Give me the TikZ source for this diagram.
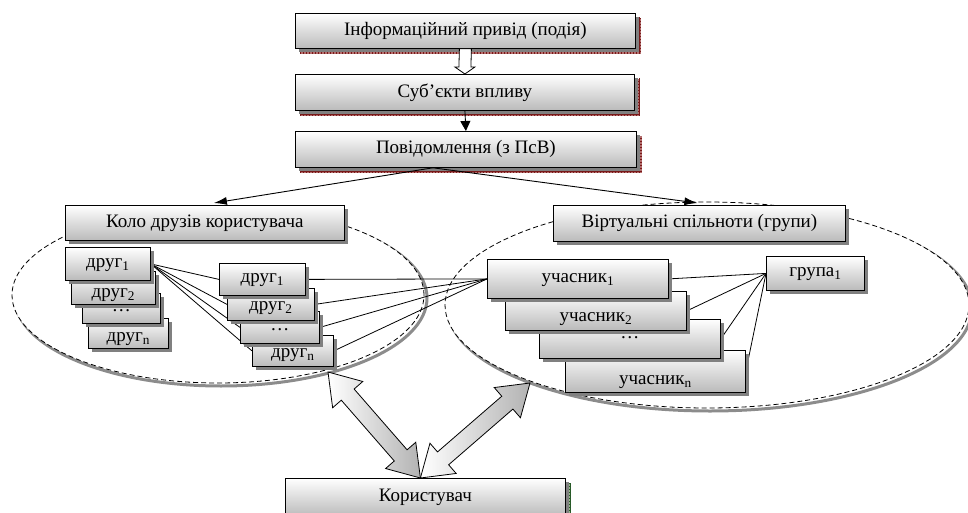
\documentclass[tikz,border=0pt]{standalone}
\usepackage{fontspec}
\setmainfont{Liberation Serif}
\usetikzlibrary{calc,shadows,patterns,backgrounds,arrows.meta}
\definecolor{hatchred}{RGB}{180,110,110}
\definecolor{hatchredline}{RGB}{120,25,25}
\definecolor{hatchgreen}{RGB}{150,180,140}
\definecolor{hatchgreenline}{RGB}{40,90,40}
\tikzset{
  boxbase/.style={draw, line width=0.8pt, top color=white, bottom color=black!27,
    font=\fontsize{19}{22}\selectfont, inner sep=0pt, anchor=north west},
  box/.style={boxbase, drop shadow={shadow xshift=3.5pt, shadow yshift=-3.5pt, fill=black!50, opacity=1}},
  tdown/.style={text height={(9+2*#1)*1pt}, text depth=4pt},
  redsh/.style={fill=hatchred, postaction={pattern=grid, pattern color=hatchredline}},
  greensh/.style={fill=hatchgreen, postaction={pattern=grid, pattern color=hatchgreenline}},
  ell/.style={draw, fill=white, line width=0.8pt, dash pattern=on 5pt off 3pt},
  ellsh/.style={draw=black!45, line width=3pt},
  conn/.style={line width=0.8pt},
  arr/.style={line width=0.9pt, -{Latex[length=13pt,width=8pt]}},
  bigarrow/.style={draw, line width=0.8pt, left color=white, right color=black!30},
}
\newcommand\bx[7][box]{\node[box, #1, minimum width={(#5-#3)*1pt}, minimum height={(#6-#4)*1pt}] (#2) at (#3,#4) {#7};}
\newcommand\dblarrow[2]{%
  \path[bigarrow] (#1)
    -- ($($(#1)!30pt!(#2)$)!20pt!90:(#2)$)
    -- ($($(#1)!30pt!(#2)$)!8.5pt!90:(#2)$)
    -- ($($(#2)!30pt!(#1)$)!8.5pt!-90:(#1)$)
    -- ($($(#2)!30pt!(#1)$)!20pt!-90:(#1)$)
    -- (#2)
    -- ($($(#2)!30pt!(#1)$)!20pt!90:(#1)$)
    -- ($($(#2)!30pt!(#1)$)!8.5pt!90:(#1)$)
    -- ($($(#1)!30pt!(#2)$)!8.5pt!-90:(#2)$)
    -- ($($(#1)!30pt!(#2)$)!20pt!-90:(#2)$)
    -- cycle;}
\begin{document}
\begin{tikzpicture}[x=1pt,y=-1pt]
\useasboundingbox (0,0) rectangle (968,513);
% ellipses (background)
\begin{pgfonlayer}{background}
  \draw[ellsh] (221,298) ellipse [x radius=206pt, y radius=88pt];
  \draw[ell] (218,295) ellipse [x radius=206pt, y radius=88pt];
  \draw[ellsh] (710,308) ellipse [x radius=262pt, y radius=103pt];
  \draw[ell] (707,305) ellipse [x radius=262pt, y radius=103pt];
\end{pgfonlayer}
% top chain
\bx[boxbase]{b1}{295}{13}{635}{48}{Інформаційний привід (подія)}
\bx[boxbase]{b2}{295}{74}{634}{110}{Суб’єкти впливу}
\bx[boxbase]{b3}{295}{131}{636}{167}{Повідомлення (з ПсВ)}
% group headers
\bx{kolo}{65}{205}{344}{240}{Коло друзів користувача}
\bx{virt}{553}{205}{845}{241}{Віртуальні спільноти (групи)}
% left column of friends
\bx[tdown=6]{fn}{88}{318}{168}{348}{друг\textsubscript{n}}
\bx[tdown=0.5]{f3}{82}{293}{160}{323}{…}
\bx[tdown=7]{f2}{71}{271}{155}{304}{друг\textsubscript{2}}
\bx[tdown=1]{f1}{65}{247}{150}{280}{друг\textsubscript{1}}
% second column of friends
\bx[tdown=4.5]{gn}{252}{335}{333}{366}{друг\textsubscript{n}}
\bx[tdown=0.5]{g3}{240}{311}{319}{343}{…}
\bx[tdown=4]{g2}{227}{288}{314}{320}{друг\textsubscript{2}}
\bx[tdown=1]{g1}{219}{263}{305}{295}{друг\textsubscript{1}}
% members
\bx[tdown=11]{un}{565}{350}{745}{392}{учасник\textsubscript{n}}
\bx[tdown=-3]{u3}{539}{319}{720}{358}{…}
\bx[tdown=8]{u2}{505}{291}{686}{330}{учасник\textsubscript{2}}
\bx[tdown=1.5]{u1}{487}{259}{668}{298}{учасник\textsubscript{1}}
\bx[tdown=1]{gr}{766}{256}{864}{290}{група\textsubscript{1}}
% user
\bx[boxbase]{user}{285}{478}{565}{516}{Користувач}
% patterned shadows and connectors behind the boxes
\begin{pgfonlayer}{background}
  \foreach \n in {b1,b2,b3}{
    \path[redsh] ([shift={(5pt,-5pt)}]\n.south west) rectangle ([shift={(5pt,-5pt)}]\n.north east);
  }
  \path[greensh] ([shift={(5pt,-5pt)}]user.south west) rectangle ([shift={(5pt,-5pt)}]user.north east);
  \foreach \g in {g1,g2,g3,gn}{
    \draw[conn] (f1.east) -- (\g.west);
    \draw[conn] (\g.east) -- (u1.west);
  }
  \foreach \u in {u1,u2,u3,un}{
    \draw[conn] (gr.west) -- (\u.east);
  }
\end{pgfonlayer}
% small hollow arrow
\draw[line width=0.8pt, fill=white]
  ([xshift=-6pt]b1.south) -- ([xshift=-6pt,yshift=7pt]b2.north) -- ([xshift=-10pt,yshift=7pt]b2.north)
  -- (b2.north) -- ([xshift=10pt,yshift=7pt]b2.north) -- ([xshift=6pt,yshift=7pt]b2.north)
  -- ([xshift=6pt]b1.south) -- cycle;
% solid arrow
\draw[line width=0.9pt, -{Triangle[length=10pt,width=10pt]}] (b2.south) -- (b3.north);
% arrows to the two groups
\draw[arr] ([xshift=-33pt]b3.south) -- ([xshift=9pt,yshift=2pt]kolo.north);
\draw[arr] ([xshift=-33pt]b3.south) -- ([xshift=-2pt,yshift=2pt]virt.north);
% big double arrows
\coordinate (lt) at (328,372);
\coordinate (rt) at (530,383);
\coordinate (ut) at ([xshift=-5pt]user.north);
\dblarrow{lt}{ut}
\dblarrow{ut}{rt}
\end{tikzpicture}
\end{document}
